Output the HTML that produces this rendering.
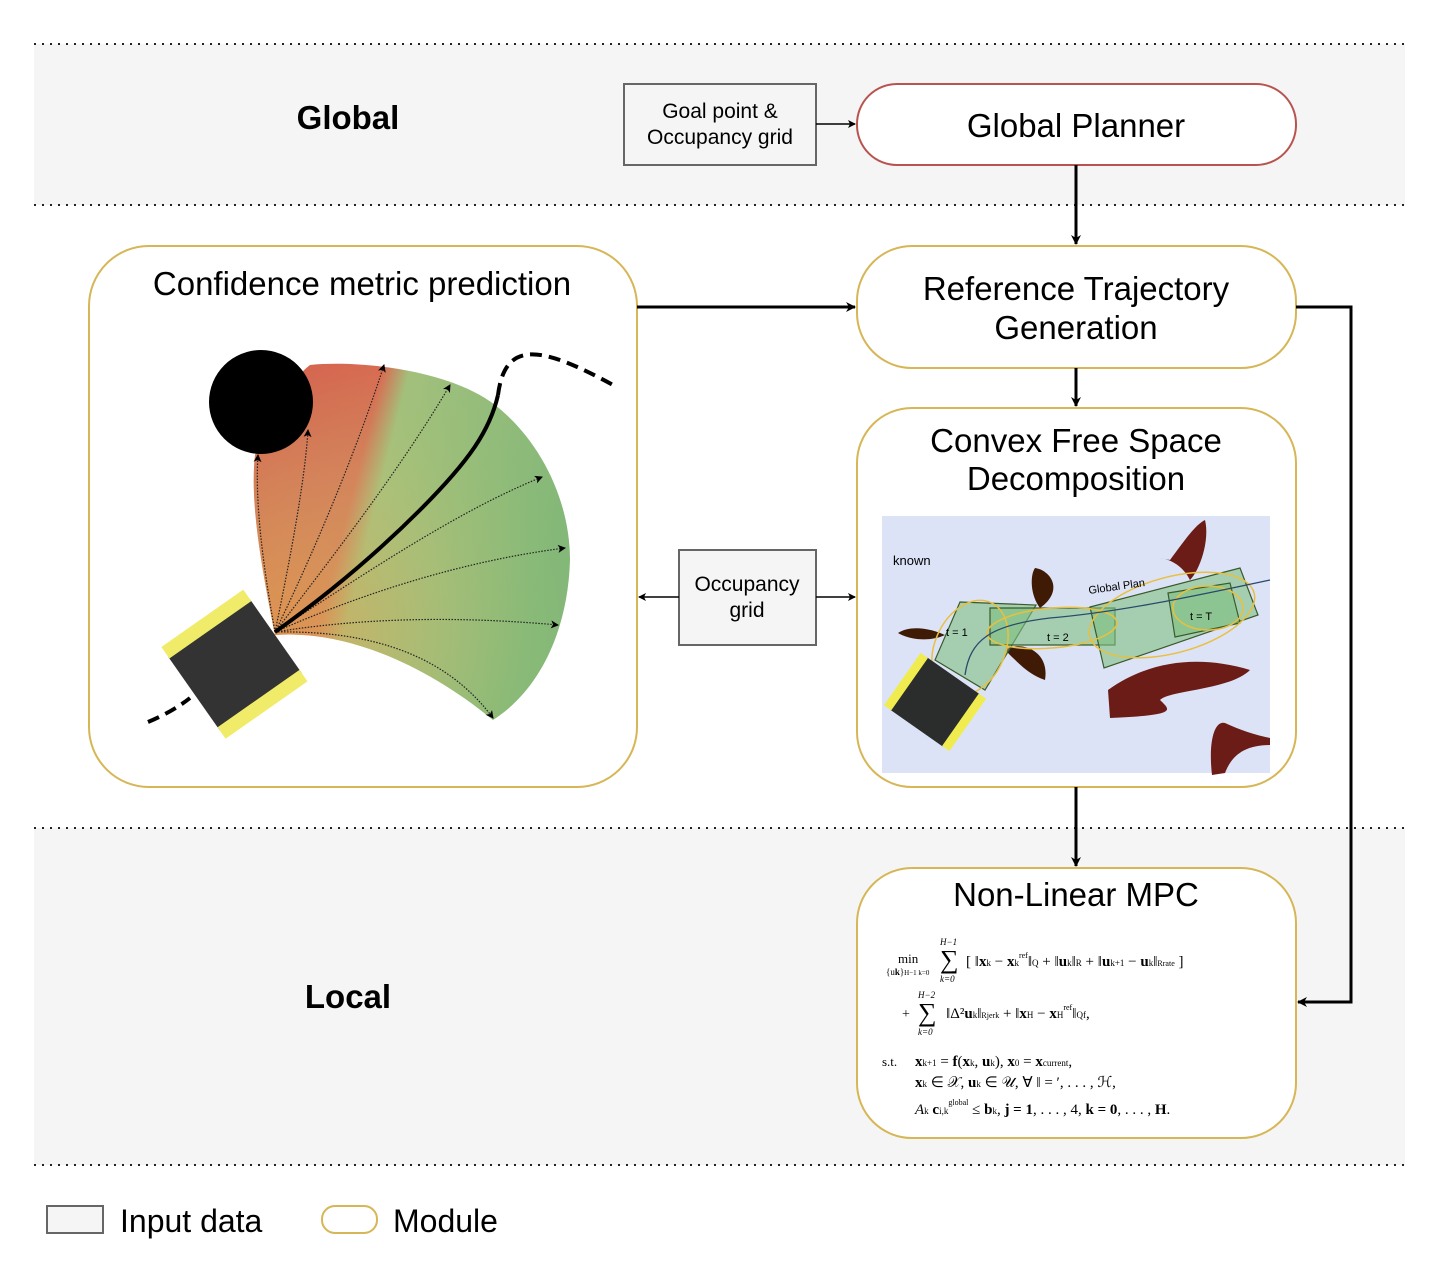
<!DOCTYPE html>
<html><head><meta charset="utf-8"><style>body{margin:0;background:#fff}svg{display:block}</style></head><body>
<svg width="1444" height="1268" viewBox="0 0 1444 1268" xmlns="http://www.w3.org/2000/svg" font-family="Liberation Sans, sans-serif">
<defs>
<marker id="a" markerWidth="10" markerHeight="10" refX="9" refY="5" orient="auto" markerUnits="userSpaceOnUse"><path d="M0,0 L10,5 L0,10 L3,5z" fill="#000"/></marker>
<marker id="s" markerWidth="8" markerHeight="8" refX="7" refY="4" orient="auto" markerUnits="userSpaceOnUse"><path d="M0,0 L8,4 L0,8 L2,4z" fill="#000"/></marker>
<linearGradient id="g" x1="255" y1="400" x2="570" y2="480" gradientUnits="userSpaceOnUse"><stop offset="0" stop-color="#d9574a"/><stop offset="0.36" stop-color="#d96a52"/><stop offset="0.44" stop-color="#a2c07c"/><stop offset="1" stop-color="#84b878"/></linearGradient>
<radialGradient id="g2" cx="275" cy="635" r="300" gradientUnits="userSpaceOnUse"><stop offset="0" stop-color="#e0a050" stop-opacity="0.8"/><stop offset="0.6" stop-color="#c8c070" stop-opacity="0.3"/><stop offset="1" stop-color="#a0c870" stop-opacity="0"/></radialGradient>
</defs>
<rect x="34" y="44" width="1371" height="161" fill="#f5f5f5"/>
<rect x="34" y="828" width="1371" height="337" fill="#f5f5f5"/>
<g stroke="#222" stroke-width="2" stroke-dasharray="2,6">
<line x1="34" y1="44" x2="1405" y2="44"/><line x1="34" y1="205" x2="1405" y2="205"/>
<line x1="34" y1="828" x2="1405" y2="828"/><line x1="34" y1="1165" x2="1405" y2="1165"/></g>
<text x="348" y="129" font-size="33" font-weight="bold" text-anchor="middle">Global</text>
<text x="348" y="1008" font-size="33" font-weight="bold" text-anchor="middle">Local</text>
<rect x="624" y="84" width="192" height="81" fill="#f5f5f5" stroke="#666" stroke-width="2"/>
<text x="720" y="118" font-size="21" text-anchor="middle">Goal point &amp;</text>
<text x="720" y="144" font-size="21" text-anchor="middle">Occupancy grid</text>
<rect x="857" y="84" width="439" height="81" rx="40" fill="#fff" stroke="#b85450" stroke-width="2"/>
<text x="1076" y="137" font-size="33" text-anchor="middle">Global Planner</text>
<rect x="857" y="246" width="439" height="122" rx="55" fill="#fff" stroke="#d6b656" stroke-width="2"/>
<text x="1076" y="300" font-size="33" text-anchor="middle">Reference Trajectory</text>
<text x="1076" y="339" font-size="33" text-anchor="middle">Generation</text>
<rect x="89" y="246" width="548" height="541" rx="60" fill="#fff" stroke="#d6b656" stroke-width="2"/>
<text x="362" y="295" font-size="33" text-anchor="middle">Confidence metric prediction</text>
<rect x="857" y="408" width="439" height="379" rx="55" fill="#fff" stroke="#d6b656" stroke-width="2"/>
<text x="1076" y="452" font-size="33" text-anchor="middle">Convex Free Space</text>
<text x="1076" y="490" font-size="33" text-anchor="middle">Decomposition</text>
<rect x="679" y="550" width="137" height="95" fill="#f5f5f5" stroke="#666" stroke-width="2"/>
<text x="747" y="591" font-size="21" text-anchor="middle">Occupancy</text>
<text x="747" y="617" font-size="21" text-anchor="middle">grid</text>
<rect x="857" y="868" width="439" height="270" rx="55" fill="#fff" stroke="#d6b656" stroke-width="2"/>
<text x="1076" y="906" font-size="33" text-anchor="middle">Non-Linear MPC</text>
<g stroke="#000" fill="none">
<line x1="1076" y1="165" x2="1076" y2="244" stroke-width="3" marker-end="url(#a)"/>
<line x1="637" y1="307" x2="855" y2="307" stroke-width="3" marker-end="url(#a)"/>
<line x1="1076" y1="368" x2="1076" y2="406" stroke-width="3" marker-end="url(#a)"/>
<line x1="1076" y1="787" x2="1076" y2="866" stroke-width="3" marker-end="url(#a)"/>
<polyline points="1296,307 1351,307 1351,1002 1298,1002" stroke-width="3" marker-end="url(#a)"/>
<line x1="816" y1="124" x2="855" y2="124" stroke-width="1.5" marker-end="url(#s)"/>
<line x1="679" y1="597" x2="639" y2="597" stroke-width="1.5" marker-end="url(#s)"/>
<line x1="816" y1="597" x2="855" y2="597" stroke-width="1.5" marker-end="url(#s)"/>
</g>
<path d="M275,635 C260,560 250,500 255,455 C270,420 290,380 310,365 C360,360 450,370 495,405 C540,440 570,500 570,560 C568,630 540,690 493,720 C420,660 340,630 275,635Z" fill="url(#g)"/>
<path d="M275,635 C260,560 250,500 255,455 C270,420 290,380 310,365 C360,360 450,370 495,405 C540,440 570,500 570,560 C568,630 540,690 493,720 C420,660 340,630 275,635Z" fill="url(#g2)"/>
<g stroke="#222" stroke-width="1.2" stroke-dasharray="1.5,1.5" fill="none">
<path d="M275,632 C262,560 255,500 258,455" marker-end="url(#s)"/>
<path d="M275,632 C290,560 305,480 308,430" marker-end="url(#s)"/>
<path d="M275,632 C320,540 360,440 384,365" marker-end="url(#s)"/>
<path d="M275,632 C330,560 400,470 450,385" marker-end="url(#s)"/>
<path d="M275,632 C370,570 460,510 542,477" marker-end="url(#s)"/>
<path d="M275,632 C370,590 470,560 565,548" marker-end="url(#s)"/>
<path d="M275,632 C380,615 480,618 558,625" marker-end="url(#s)"/>
<path d="M275,632 C380,630 450,660 493,718" marker-end="url(#s)"/>
</g>
<path d="M275,632 C320,600 370,560 420,510 C470,460 490,430 498,395" stroke="#000" stroke-width="4" fill="none"/>
<path d="M498,395 C505,340 540,345 613,385" stroke="#000" stroke-width="4" fill="none" stroke-dasharray="12,7"/>
<path d="M148,722 C165,715 180,706 190,698" stroke="#000" stroke-width="4" fill="none" stroke-dasharray="12,7"/>
<circle cx="261" cy="402" r="52" fill="#000"/>
<g transform="rotate(-35 235 665)"><rect x="185" y="620" width="100" height="90" fill="#333"/><rect x="185" y="608" width="100" height="14" fill="#f0ec6a"/><rect x="185" y="706" width="100" height="14" fill="#f0ec6a"/></g>
<rect x="882" y="516" width="388" height="257" fill="#dce3f7"/>
<text x="893" y="565" font-size="13">known</text>
<path d="M1170,560 C1185,540 1195,525 1205,520 C1210,540 1200,570 1190,580 C1185,570 1175,560 1160,558Z" fill="#6b1c17"/>
<path d="M1108,690 C1150,660 1200,655 1250,670 C1230,690 1170,690 1160,700 C1170,710 1180,715 1110,718Z" fill="#6b1c17"/>
<path d="M1212,775 C1208,740 1215,720 1225,723 C1240,730 1255,735 1270,738 L1270,745 C1240,745 1230,760 1225,773Z" fill="#6b1c17"/>
<path d="M1035,568 C1050,570 1065,590 1040,608 C1030,595 1030,575 1035,568Z" fill="#3f1a05"/>
<path d="M1005,650 C1020,640 1050,650 1045,680 C1030,675 1020,665 1005,650Z" fill="#3f1a05"/>
<path d="M898,633 C910,625 930,628 945,635 C930,642 910,640 898,633Z" fill="#3f1a05"/>
<g fill="#7fbf7f" fill-opacity="0.6" stroke="#3a5a2a" stroke-width="1.2">
<polygon points="960,602 1036,605 985,690 935,660"/>
<polygon points="990,608 1115,608 1115,645 990,645"/>
<polygon points="1090,607 1240,568 1258,615 1104,668"/>
<polygon points="1168,593 1230,583 1240,623 1175,637"/>
</g>
<g fill="none" stroke="#e8c040" stroke-width="1.5">
<ellipse cx="970" cy="648" rx="35" ry="50" transform="rotate(25 970 648)"/>
<ellipse cx="1052" cy="628" rx="65" ry="20" transform="rotate(-5 1052 628)"/>
<ellipse cx="1172" cy="615" rx="85" ry="38" transform="rotate(-15 1172 615)"/>
<ellipse cx="1208" cy="608" rx="35" ry="22"/>
</g>
<path d="M965,675 C970,640 990,625 1050,618 C1120,612 1200,595 1270,580" stroke="#2a4a6a" stroke-width="1.3" fill="none"/>
<text x="1089" y="594" font-size="11" transform="rotate(-8 1089 594)">Global Plan</text>
<text x="946" y="636" font-size="11">t = 1</text>
<text x="1047" y="641" font-size="11">t = 2</text>
<text x="1190" y="620" font-size="11">t = T</text>
<g transform="rotate(35 935 702)"><rect x="903" y="670" width="64" height="64" fill="#2b2d2d"/><rect x="895" y="670" width="9" height="64" fill="#f0ec50"/><rect x="966" y="670" width="9" height="64" fill="#f0ec50"/></g>
<g font-family="Liberation Serif, serif" font-size="14">
<text x="898" y="963" font-size="13">min</text>
<text x="886" y="975" font-size="9">{u<tspan font-weight="bold">k</tspan>}<tspan font-size="7">H−1 k=0</tspan></text>
<text x="940" y="945" font-size="9" font-style="italic">H−1</text>
<text x="940" y="968" font-size="26">∑</text>
<text x="940" y="982" font-size="9" font-style="italic">k=0</text>
<text x="966" y="966" font-size="15">[ ‖<tspan font-weight="bold">x</tspan><tspan font-size="9">k</tspan> − <tspan font-weight="bold">x</tspan><tspan font-size="9">k</tspan><tspan font-size="8" dy="-8">ref</tspan><tspan dy="8">‖</tspan><tspan font-size="9">Q</tspan> + ‖<tspan font-weight="bold">u</tspan><tspan font-size="9">k</tspan>‖<tspan font-size="9">R</tspan> + ‖<tspan font-weight="bold">u</tspan><tspan font-size="9">k+1</tspan> − <tspan font-weight="bold">u</tspan><tspan font-size="9">k</tspan>‖<tspan font-size="8">Rrate</tspan> ]</text>
<text x="902" y="1018">+</text>
<text x="918" y="998" font-size="9" font-style="italic">H−2</text>
<text x="918" y="1021" font-size="26">∑</text>
<text x="918" y="1035" font-size="9" font-style="italic">k=0</text>
<text x="946" y="1018" font-size="15">‖Δ²<tspan font-weight="bold">u</tspan><tspan font-size="9">k</tspan>‖<tspan font-size="8">Rjerk</tspan> + ‖<tspan font-weight="bold">x</tspan><tspan font-size="9">H</tspan> − <tspan font-weight="bold">x</tspan><tspan font-size="9">H</tspan><tspan font-size="8" dy="-8">ref</tspan><tspan dy="8">‖</tspan><tspan font-size="9">Qf</tspan>,</text>
<text x="882" y="1066" font-size="13">s.t.</text>
<text x="915" y="1066" font-size="15"><tspan font-weight="bold">x</tspan><tspan font-size="9">k+1</tspan> = <tspan font-weight="bold">f</tspan>(<tspan font-weight="bold">x</tspan><tspan font-size="9">k</tspan>, <tspan font-weight="bold">u</tspan><tspan font-size="9">k</tspan>),    <tspan font-weight="bold">x</tspan><tspan font-size="9">0</tspan> = <tspan font-weight="bold">x</tspan><tspan font-size="9">current</tspan>,</text>
<text x="915" y="1087" font-size="15"><tspan font-weight="bold">x</tspan><tspan font-size="9">k</tspan> ∈ 𝒳,    <tspan font-weight="bold">u</tspan><tspan font-size="9">k</tspan> ∈ 𝒰,    ∀ ‖ = ′, . . . , ℋ,</text>
<text x="915" y="1114" font-size="15"><tspan font-style="italic">A</tspan><tspan font-size="9">k</tspan> <tspan font-weight="bold">c</tspan><tspan font-size="9">i,k</tspan><tspan font-size="8" dy="-9">global</tspan><tspan dy="9"> ≤ </tspan><tspan font-weight="bold">b</tspan><tspan font-size="9">k</tspan>,    <tspan font-weight="bold">j = 1</tspan>, . . . , 4,    <tspan font-weight="bold">k = 0</tspan>, . . . , <tspan font-weight="bold">H</tspan>.</text>
</g>
<rect x="47" y="1206" width="56" height="27" fill="#f5f5f5" stroke="#666" stroke-width="2"/>
<text x="120" y="1232" font-size="32">Input data</text>
<rect x="322" y="1206" width="55" height="27" rx="13" fill="#fff" stroke="#d6b656" stroke-width="2"/>
<text x="393" y="1232" font-size="32">Module</text>
</svg>
</body></html>
